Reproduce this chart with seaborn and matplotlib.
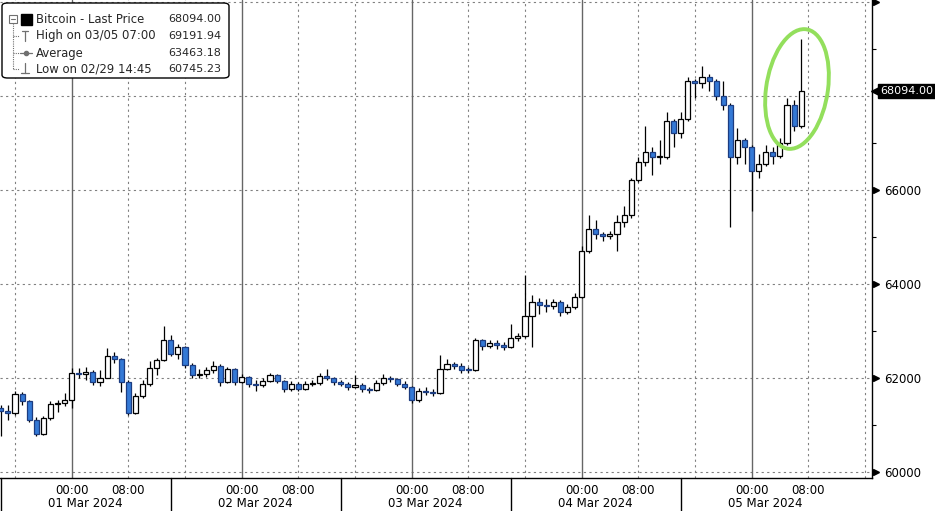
import pandas as pd
import seaborn as sns
import matplotlib.pyplot as plt
from matplotlib.patches import FancyBboxPatch, Ellipse, Rectangle
from matplotlib.lines import Line2D
from matplotlib.transforms import blended_transform_factory

# hourly bars, Feb 29 14:00 -> Mar 5 07:00
start_time = "2024-02-29 14:00"
first_open = 61350
closes = [61280, 61250, 61650, 61490, 61100, 60800, 61130, 61445, 61450, 61530,
          62100, 62080, 62120, 61900, 62000, 62450, 62400, 61900, 61250, 61600,
          61870, 62200, 62380, 62800, 62500, 62640, 62260, 62050, 62080, 62150,
          62250, 61900, 62180, 61910, 62010, 61870, 61850, 61930, 62050, 61930,
          61750, 61860, 61760, 61870, 61880, 62030, 62000, 61900, 61870, 61800,
          61840, 61760, 61740, 61880, 61980, 61970, 61870, 61800, 61530, 61720,
          61700, 61670, 62180, 62280, 62250, 62170, 62160, 62800, 62680, 62740,
          62700, 62650, 62850, 62880, 63300, 63600, 63550, 63520, 63600, 63400,
          63500, 63720, 64700, 65150, 65050, 65020, 65050, 65300, 65450, 66200,
          66580, 66800, 66700, 66700, 67450, 67200, 67500, 68300, 68270, 68400,
          68300, 68000, 67800, 66700, 67050, 66900, 66400, 66550, 66800, 66720,
          67000, 67800, 67350, 68094]
highs = [61420, 61420, 61720, 61700, 61520, 61150, 61180, 61500, 61520, 61680,
         62200, 62200, 62220, 62150, 62150, 62620, 62550, 62420, 61950, 61680,
         61950, 62350, 62420, 63100, 62900, 62720, 62680, 62300, 62180, 62220,
         62350, 62280, 62230, 62200, 62080, 62040, 61950, 62000, 62100, 62080,
         61950, 61920, 61900, 61920, 61950, 62100, 62180, 62020, 61950, 61900,
         62050, 61880, 61800, 61950, 62080, 62030, 61990, 61920, 61820, 61780,
         61800, 61760, 62480, 62400, 62320, 62300, 62220, 62850, 62820, 62800,
         62790, 62760, 63130, 62950, 64180, 63750, 63700, 63680, 63680, 63650,
         63560, 63800, 64800, 65450, 65350, 65100, 65120, 65450, 65650, 66250,
         66700, 67350, 66900, 67050, 67650, 67500, 67650, 68400, 68350, 68620,
         68450, 68350, 68300, 67850, 67300, 67100, 66950, 66750, 66950, 66900,
         67100, 67950, 67900, 69192]
lows = [60745, 61100, 61200, 61420, 61050, 60760, 60780, 61100, 61260, 61400,
        61350, 61980, 61950, 61850, 61820, 61980, 62300, 61700, 61200, 61220,
        61560, 61820, 62050, 62350, 62450, 62400, 62200, 61980, 61980, 62020,
        62100, 61820, 61880, 61850, 61880, 61800, 61720, 61800, 61900, 61880,
        61700, 61720, 61720, 61740, 61820, 61850, 61950, 61850, 61820, 61740,
        61780, 61700, 61680, 61720, 61850, 61900, 61820, 61750, 61450, 61480,
        61630, 61600, 61650, 62150, 62180, 62100, 62100, 62140, 62580, 62620,
        62600, 62580, 62620, 62780, 62850, 62640, 63350, 63400, 63450, 63300,
        63350, 63450, 63700, 64650, 64950, 64900, 64950, 64700, 65200, 65400,
        66150, 66500, 66300, 66550, 66650, 66900, 67100, 67450, 67950, 68150,
        68100, 67900, 67700, 65200, 66550, 66550, 65550, 66250, 66500, 66550,
        66680, 66950, 67250, 67300]

day_labels = ["01 Mar 2024", "02 Mar 2024", "03 Mar 2024", "04 Mar 2024", "05 Mar 2024"]
hour_labels = ["00:00", "08:00"]
price_ticks = [60000, 62000, 64000, 66000]
last_price = 68094.00
legend_rows = [("Bitcoin - Last Price", "68094.00"),
               ("High on 03/05 07:00", "69191.94"),
               ("Average", "63463.18"),
               ("Low on 02/29 14:45", "60745.23")]

sns.set_style("white")
plt.rcParams['font.family'] = ['DejaVu Sans']

df = pd.DataFrame({"time": pd.date_range(start_time, periods=len(closes), freq="h"),
                   "close": closes, "high": highs, "low": lows})
df["open"] = [first_open] + closes[:-1]
df["h"] = (df["time"] - pd.Timestamp("2024-03-01")) / pd.Timedelta(hours=1)
df["up"] = df["close"] >= df["open"]
df["bottom"] = df[["open", "close"]].min(axis=1)
df["body"] = (df["close"] - df["open"]).abs().clip(lower=15)

W, H = 935, 511
fig = plt.figure(figsize=(W / 100, H / 100), dpi=100)
ax = fig.add_axes([0, 33 / H, 872 / W, 478 / H])

def fx(px):
    return px / W

def fy(py):
    return 1 - py / H

# grid
for y in range(60000, 70001, 2000):
    ax.axhline(y, color="#808080", lw=0.8, ls=(0, (2, 3)), zorder=1)
for d in range(5):
    ax.axvline(24 * d, color="#666666", lw=1.0, zorder=1)
for hh in [-8] + [24 * d + k for d in range(5) for k in (8, 16)]:
    ax.axvline(hh, color="#808080", lw=0.8, ls=(0, (2, 3)), zorder=1)

# candles
ax.vlines(df["h"], df["low"], df["high"], color="black", lw=0.9, zorder=2)
up = df[df["up"]]
dn = df[~df["up"]]
ax.bar(up["h"], up["body"], bottom=up["bottom"], width=0.72,
       color="white", edgecolor="black", linewidth=0.9, zorder=3)
ax.bar(dn["h"], dn["body"], bottom=dn["bottom"], width=0.72,
       color="#3479d6", edgecolor="#1c3c80", linewidth=0.9, zorder=3)

ax.set_xlim(-10.12, 113.0)
ax.set_ylim(59862, 70032)

for s in ["top", "left"]:
    ax.spines[s].set_visible(False)
for s in ["right", "bottom"]:
    ax.spines[s].set_color("black")
    ax.spines[s].set_linewidth(1.0)

# right axis
ax.yaxis.tick_right()
ax.set_yticks(price_ticks, [str(p) for p in price_ticks])
ax.set_yticks(range(61000, 70000, 2000), minor=True)
ax.tick_params(axis="y", which="major", length=0, pad=9, labelsize=8.5, colors="black")
ax.tick_params(axis="y", which="minor", length=3, width=0.8, colors="black", direction="out")
ytrans = blended_transform_factory(ax.transAxes, ax.transData)
ax.plot([1 + 4 / 872] * 5, price_ticks + [70000], ls="none", marker=">", ms=4.5,
        color="black", transform=ytrans, clip_on=False)
ax.plot([1 + 4 / 872], [last_price], ls="none", marker="<", ms=7,
        color="black", transform=ytrans, clip_on=False)
ax.text(1 + 8 / 872, last_price, f"{last_price:.2f}", transform=ytrans, color="white",
        fontsize=8, va="center", ha="left", clip_on=False,
        bbox=dict(boxstyle="square,pad=0.15", fc="black", ec="black"))

# bottom axis
xt = [24 * d + k for d in range(5) for k in (0, 8)]
ax.set_xticks(xt, hour_labels * 5)
ax.set_xticks([hh for hh in range(-8, 113, 4) if hh % 24 not in (0, 8)], minor=True)
ax.tick_params(axis="x", which="major", length=3, width=1, pad=1, labelsize=8.5, colors="black")
ax.tick_params(axis="x", which="minor", length=2, width=0.8, colors="#444444")
xtrans = blended_transform_factory(ax.transData, ax.transAxes)
for d, lab in enumerate(day_labels):
    ax.text(24 * d + 1.9, -25 / 478, lab, transform=xtrans, ha="center", va="center",
            fontsize=8.5, color="black", clip_on=False)
for d in range(4):
    ax.plot([24 * d + 14] * 2, [0, -33 / 478], color="black", lw=1,
            transform=xtrans, clip_on=False)
fig.add_artist(Line2D([fx(0.5), fx(0.5)], [0, 33 / H], color="black", lw=1))

# legend box
fig.add_artist(FancyBboxPatch((fx(2), fy(78)), fx(227), 75 / H,
                              boxstyle="round,pad=0,rounding_size=0.006",
                              transform=fig.transFigure, fc="white", ec="black", lw=1, zorder=5))
rows_y = [19, 36, 53, 69]
for (lab, val), yy in zip(legend_rows, rows_y):
    fig.text(fx(36), fy(yy), lab, fontsize=8.4, va="center", ha="left", zorder=6)
    fig.text(fx(221), fy(yy), val, fontsize=8, va="center", ha="right", zorder=6)
gray = "#707070"
fig.add_artist(Rectangle((fx(9), fy(23)), fx(8), 8 / H, transform=fig.transFigure,
                         fill=False, ec=gray, lw=0.8, zorder=6))
fig.add_artist(Line2D([fx(11), fx(15)], [fy(19), fy(19)], color=gray, lw=0.8, zorder=6))
fig.add_artist(Rectangle((fx(21), fy(25)), fx(11), 11 / H, transform=fig.transFigure,
                         fc="black", ec="black", zorder=6))
fig.add_artist(Line2D([fx(13), fx(13)], [fy(23), fy(69)], color=gray, lw=0.8,
                      ls=(0, (1, 1)), zorder=6))
for yy in rows_y[1:]:
    fig.add_artist(Line2D([fx(13), fx(19)], [fy(yy), fy(yy)], color=gray, lw=0.8,
                          ls=(0, (1, 1)), zorder=6))
fig.add_artist(Line2D([fx(25), fx(25)], [fy(31), fy(41)], color=gray, lw=0.9, zorder=6))
fig.add_artist(Line2D([fx(22), fx(28)], [fy(31), fy(31)], color=gray, lw=0.9, zorder=6))
fig.add_artist(Line2D([fx(20), fx(32)], [fy(53), fy(53)], color=gray, lw=0.9, zorder=6))
fig.add_artist(Line2D([fx(26)], [fy(53)], color=gray, marker="o", ms=3, zorder=6))
fig.add_artist(Line2D([fx(25), fx(25)], [fy(63), fy(73)], color=gray, lw=0.9, zorder=6))
fig.add_artist(Line2D([fx(21), fx(29)], [fy(73), fy(73)], color=gray, lw=0.9, zorder=6))

# highlight circle
fig.add_artist(Ellipse((fx(797), fy(89)), 62 / W, 120 / H, angle=-4,
                       transform=fig.transFigure, fill=False, ec="#93df5c", lw=2.8, zorder=7))

fig.savefig("out.png", dpi=100)
